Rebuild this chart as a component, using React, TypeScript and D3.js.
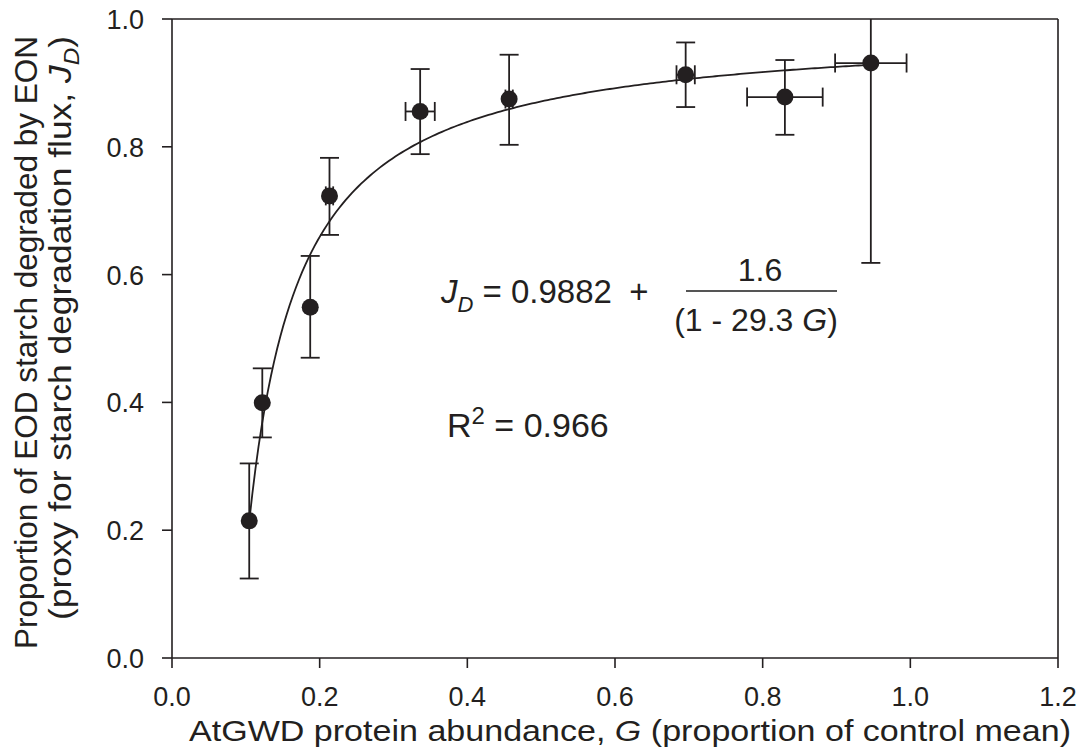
import React from "react";
import * as d3 from "d3";

// ---- data ----
const gValues = [0.1046, 0.1223, 0.1872, 0.2133, 0.3361, 0.4566, 0.6957, 0.8301, 0.9465];
const jValues = [0.2146, 0.3994, 0.5489, 0.7232, 0.8553, 0.8747, 0.9127, 0.8778, 0.9311];
const jErrLow = [0.1244, 0.3452, 0.4699, 0.6621, 0.7885, 0.8031, 0.8622, 0.8188, 0.6183];
const jErrHigh = [0.3045, 0.4533, 0.6292, 0.7827, 0.9217, 0.9441, 0.9633, 0.9358, 1.244];
const gErr = [0.0, 0.0, 0.0, 0.005, 0.0198, 0.005, 0.0124, 0.0512, 0.0484];
const xTicks = [0, 0.2, 0.4, 0.6, 0.8, 1.0, 1.2];
const yTicks = [0, 0.2, 0.4, 0.6, 0.8, 1.0];
// fitted curve printed on the chart: J_D = 0.9882 + 1.6 / (1 - 29.3 G)
const fitA = 0.9882;
const fitB = 1.6;
const fitC = 29.3;
const fitRange = [0.1046, 0.9465];

const INK = "#231f20";
const FONT = "'Liberation Sans', Arial, Helvetica, sans-serif";

export default function App() {
  const W = 1083;
  const H = 747;
  const x = d3.scaleLinear().domain([0, 1.2]).range([172, 1058]);
  const y = d3.scaleLinear().domain([0, 1.0]).range([658, 19]);

  const fitPts: [number, number][] = d3
    .range(0, 201)
    .map((i) => fitRange[0] + ((fitRange[1] - fitRange[0]) * i) / 200)
    .map((g) => [g, fitA + fitB / (1 - fitC * g)]);
  const line = d3
    .line<[number, number]>()
    .x((d) => x(d[0]))
    .y((d) => y(d[1]));

  const cap = 9.5;
  const clipTop = y(1.0);

  return (
    <svg width={W} height={H} style={{ position: "absolute", left: 0, top: 0, background: "#fff" }}>
      <rect x={0} y={0} width={W} height={H} fill="#fff" />
      <defs>
        <clipPath id="plotclip">
          <rect x={x(0)} y={y(1.0)} width={x(1.2) - x(0)} height={y(0) - y(1.0)} />
        </clipPath>
      </defs>
      {/* frame */}
      <g stroke={INK} strokeWidth={1.6} fill="none">
        <line x1={x(0)} y1={y(1)} x2={x(1.2)} y2={y(1)} />
        <line x1={x(1.2)} y1={y(1)} x2={x(1.2)} y2={y(0)} />
        <line x1={x(0)} y1={y(0)} x2={x(1.2)} y2={y(0)} />
        <line x1={x(0)} y1={y(0)} x2={x(0)} y2={y(1)} />
      </g>
      {/* x ticks */}
      {xTicks.map((t) => (
        <g key={"xt" + t}>
          <line x1={x(t)} x2={x(t)} y1={y(0)} y2={y(0) + 10} stroke={INK} strokeWidth={1.6} />
          <text x={x(t)} y={706} textAnchor="middle" fontFamily={FONT} fontSize={27} fill={INK}>
            {t.toFixed(1)}
          </text>
        </g>
      ))}
      {/* y ticks */}
      {yTicks.map((t) => (
        <g key={"yt" + t}>
          <line x1={x(0) - 10} x2={x(0)} y1={y(t)} y2={y(t)} stroke={INK} strokeWidth={1.6} />
          <text x={144} y={y(t) + 10} textAnchor="end" fontFamily={FONT} fontSize={27} fill={INK}>
            {t.toFixed(1)}
          </text>
        </g>
      ))}
      {/* axis titles */}
      <text
        x={189}
        y={741}
        textLength={882}
        lengthAdjust="spacingAndGlyphs"
        fontFamily={FONT}
        fontSize={30}
        fill={INK}
      >
        AtGWD protein abundance, <tspan fontStyle="italic">G</tspan> (proportion of control mean)
      </text>
      <g transform={`translate(37, 649) rotate(-90)`}>
        <text
          x={0}
          y={0}
          textLength={613}
          lengthAdjust="spacingAndGlyphs"
          fontFamily={FONT}
          fontSize={32}
          fill={INK}
        >
          Proportion of EOD starch degraded by EON
        </text>
      </g>
      <g transform={`translate(71, 620) rotate(-90)`}>
        <text
          x={0}
          y={0}
          textLength={584}
          lengthAdjust="spacingAndGlyphs"
          fontFamily={FONT}
          fontSize={32}
          fill={INK}
        >
          (proxy for starch degradation flux, <tspan fontStyle="italic">J</tspan>
          <tspan fontStyle="italic" fontSize={22} dy={8}>D</tspan>
          <tspan dy={-8}>)</tspan>
        </text>
      </g>
      {/* fitted curve */}
      <path d={line(fitPts) || ""} fill="none" stroke={INK} strokeWidth={1.8} />
      {/* error bars and points */}
      <g clipPath="url(#plotclip)" stroke={INK} strokeWidth={1.8}>
        {gValues.map((g, i) => {
          const cx = x(g);
          const yl = y(jErrLow[i]);
          const yh = y(jErrHigh[i]);
          const xl = x(g - gErr[i]);
          const xh = x(g + gErr[i]);
          return (
            <g key={"eb" + i}>
              <line x1={cx} x2={cx} y1={yl} y2={yh} />
              <line x1={cx - cap} x2={cx + cap} y1={yl} y2={yl} />
              {yh >= clipTop ? <line x1={cx - cap} x2={cx + cap} y1={yh} y2={yh} /> : null}
              {gErr[i] > 0 ? (
                <>
                  <line x1={xl} x2={xh} y1={y(jValues[i])} y2={y(jValues[i])} />
                  <line x1={xl} x2={xl} y1={y(jValues[i]) - cap} y2={y(jValues[i]) + cap} />
                  <line x1={xh} x2={xh} y1={y(jValues[i]) - cap} y2={y(jValues[i]) + cap} />
                </>
              ) : null}
            </g>
          );
        })}
      </g>
      {gValues.map((g, i) => (
        <circle key={"pt" + i} cx={x(g)} cy={y(jValues[i])} r={8.5} fill={INK} />
      ))}
      {/* equation */}
      <text x={441} y={303} fontFamily={FONT} fontSize={33} fill={INK}>
        <tspan fontStyle="italic">J</tspan>
        <tspan fontStyle="italic" fontSize={22} dy={9}>D</tspan>
        <tspan dy={-9}> = 0.9882</tspan>
      </text>
      <text x={639} y={303} textAnchor="middle" fontFamily={FONT} fontSize={33} fill={INK}>
        +
      </text>
      <text x={760} y={281} textAnchor="middle" fontFamily={FONT} fontSize={32} fill={INK}>
        1.6
      </text>
      <line x1={686} x2={837} y1={291} y2={291} stroke="#555" strokeWidth={1.8} />
      <text x={756} y={331} textAnchor="middle" fontFamily={FONT} fontSize={32} fill={INK}>
        (1 - 29.3 <tspan fontStyle="italic">G</tspan>)
      </text>
      <text x={447} y={437} fontFamily={FONT} fontSize={34} fill={INK}>
        R<tspan fontSize={24} dy={-13}>2</tspan>
        <tspan dy={13}> = 0.966</tspan>
      </text>
    </svg>
  );
}
